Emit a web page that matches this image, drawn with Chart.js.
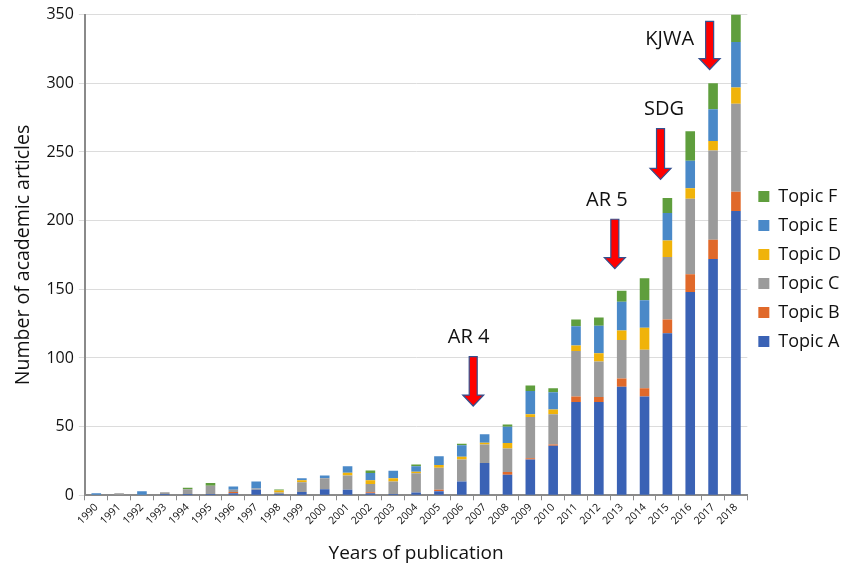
<!DOCTYPE html>
<html>
<head>
<meta charset="utf-8">
<script src="https://cdn.jsdelivr.net/npm/chart.js@4"></script>
<style>
  html, body { margin: 0; padding: 0; background: #fff; }
  #wrap { width: 845px; height: 568px; }
</style>
</head>
<body>
<div id="wrap"><canvas id="chart"></canvas></div>
<script>
const years = ['1990', '1991', '1992', '1993', '1994', '1995', '1996', '1997', '1998', '1999',
  '2000', '2001', '2002', '2003', '2004', '2005', '2006', '2007', '2008', '2009',
  '2010', '2011', '2012', '2013', '2014', '2015', '2016', '2017', '2018'];

const topicA = [0, 0, 0, 1, 1, 1, 1.5, 4, 1, 2.5, 4.5, 4, 1.5, 1, 2, 3, 10, 23.5, 15, 26, 36, 68, 68, 79, 72, 118, 148, 172, 207];
const topicB = [0, 0, 0, 0, 0, 0, 1, 0, 0, 0, 0, 0, 0.7, 0, 0, 1, 0, 0, 2, 1, 1, 4, 3.5, 6, 6, 10, 13, 14, 14];
const topicC = [0, 1.5, 0, 1.2, 3.5, 6, 1.5, 1, 1, 7, 8, 10.5, 6, 9, 14, 16, 16, 13.5, 17, 30, 22, 33, 26, 28, 28, 45.5, 55, 65, 64];
const topicD = [0, 0, 0, 0, 0, 0, 0, 0, 1.5, 1.5, 0, 2, 2.7, 2.4, 1.2, 2, 2, 1.2, 4, 2, 3.5, 4, 6, 7, 16, 12, 7.5, 7, 12];
const topicE = [1.5, 0, 3, 0, 0, 0, 2.5, 5, 0, 1.5, 2, 4.6, 5.4, 5.4, 4, 6.4, 8.5, 6.2, 12, 17, 12.5, 14, 20, 21, 20, 20, 20, 23, 33];
const topicF = [0, 0, 0, 0, 1, 2, 0, 0, 0.7, 0, 0, 0, 1.7, 0, 1.2, 0, 1, 0, 1.5, 4, 3, 5, 6, 8, 16, 11, 21.5, 19, 20];

// events marked with arrows (category index may be fractional, values on the y scale)
const eventLabels = ['AR 4', 'AR 5', 'SDG', 'KJWA'];
const eventArrowIndex = [16.5, 22.7, 24.7, 26.85];
const eventArrowTop = [101, 201, 267, 345];
const eventArrowTip = [65, 165, 230, 310];
const eventTextIndex = [16.3, 22.35, 24.85, 25.1];
const eventTextValue = [115, 215, 281, 332];

const FONT = "'Open Sans', sans-serif";

const arrowPlugin = {
  id: 'eventArrows',
  afterDatasetsDraw(chart) {
    const {ctx, scales: {x, y}} = chart;
    const step = x.getPixelForValue(1) - x.getPixelForValue(0);
    const px = i => x.getPixelForValue(0) + i * step;
    ctx.save();
    eventLabels.forEach((label, i) => {
      const cx = px(eventArrowIndex[i]);
      const top = y.getPixelForValue(eventArrowTop[i]);
      const tip = y.getPixelForValue(eventArrowTip[i]);
      const shaft = 4, head = 10.5, headH = 11;
      ctx.beginPath();
      ctx.moveTo(cx - shaft, top);
      ctx.lineTo(cx + shaft, top);
      ctx.lineTo(cx + shaft, tip - headH);
      ctx.lineTo(cx + head, tip - headH);
      ctx.lineTo(cx, tip);
      ctx.lineTo(cx - head, tip - headH);
      ctx.lineTo(cx - shaft, tip - headH);
      ctx.closePath();
      ctx.fillStyle = '#ff0000';
      ctx.fill();
      ctx.lineWidth = 1.2;
      ctx.strokeStyle = '#34508f';
      ctx.stroke();

      ctx.fillStyle = '#111';
      ctx.font = '20px ' + FONT;
      ctx.textAlign = 'center';
      ctx.textBaseline = 'middle';
      ctx.fillText(label, px(eventTextIndex[i]), y.getPixelForValue(eventTextValue[i]));
    });
    ctx.restore();
  }
};

// nudge the right-hand legend up a little, as in the original
const legendShift = {
  id: 'legendShift',
  afterLayout(chart) {
    chart.legend.top -= 22;
    chart.legend.bottom -= 22;
  }
};

const series = [
  {label: 'Topic A', data: topicA, color: '#3a62b5'},
  {label: 'Topic B', data: topicB, color: '#e0692a'},
  {label: 'Topic C', data: topicC, color: '#9b9b9b'},
  {label: 'Topic D', data: topicD, color: '#f0b30a'},
  {label: 'Topic E', data: topicE, color: '#4a89c8'},
  {label: 'Topic F', data: topicF, color: '#5f9e3d'},
];

new Chart(document.getElementById('chart'), {
  type: 'bar',
  data: {
    labels: years,
    datasets: series.map(s => ({
      label: s.label,
      data: s.data,
      backgroundColor: s.color,
      borderWidth: 0,
      barPercentage: 0.42,
      categoryPercentage: 1,
    })),
  },
  options: {
    responsive: true,
    maintainAspectRatio: false,
    animation: false,
    layout: {padding: {top: 13, right: -6, left: 8, bottom: -1}},
    plugins: {
      legend: {
        position: 'right',
        reverse: true,
        labels: {
          boxWidth: 11,
          boxHeight: 11,
          padding: 11,
          color: '#111',
          font: {family: FONT, size: 18},
        },
      },
      tooltip: {enabled: false},
    },
    scales: {
      x: {
        stacked: true,
        grid: {offset: true, drawOnChartArea: false, tickLength: 5, color: '#8a8a8a', lineWidth: 1},
        border: {color: '#8a8a8a', width: 2},
        ticks: {
          color: '#111',
          font: {family: FONT, size: 10.5},
          autoSkip: false,
          minRotation: 45,
          maxRotation: 45,
          padding: 1,
        },
        title: {
          display: true,
          text: 'Years of publication',
          color: '#111',
          font: {family: FONT, size: 19},
          padding: {top: 14},
        },
      },
      y: {
        stacked: true,
        min: 0,
        max: 350,
        grid: {color: '#dcdcdc', tickLength: 6, lineWidth: 1},
        border: {color: '#8a8a8a', width: 2},
        ticks: {
          stepSize: 50,
          color: '#111',
          font: {family: FONT, size: 16},
          padding: 5,
        },
        title: {
          display: true,
          text: 'Number of academic articles',
          color: '#111',
          font: {family: FONT, size: 19.5},
          padding: {bottom: 6},
        },
      },
    },
  },
  plugins: [arrowPlugin, legendShift],
});
</script>
</body>
</html>
